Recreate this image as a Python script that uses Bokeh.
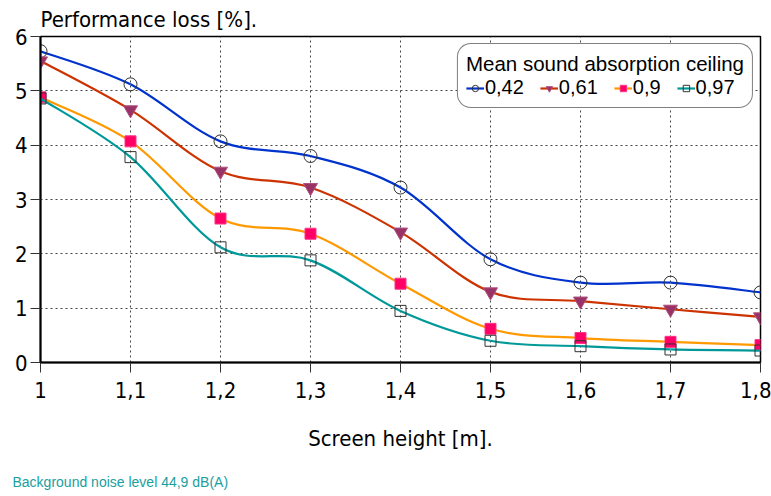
import numpy as np
from bokeh.plotting import figure
from bokeh.models import ColumnDataSource, Legend, LegendItem, FixedTicker, Title
from bokeh.embed import file_html
from bokeh.resources import INLINE

# ---- data ----
heights = [1.0, 1.1, 1.2, 1.3, 1.4, 1.5, 1.6, 1.7, 1.8]
x_tick_labels = ["1", "1,1", "1,2", "1,3", "1,4", "1,5", "1,6", "1,7", "1,8"]
y_ticks = [0, 1, 2, 3, 4, 5, 6]
series_names = ["0,42", "0,61", "0,9", "0,97"]
loss_042 = [5.73, 5.12, 4.07, 3.80, 3.22, 1.90, 1.47, 1.47, 1.29]
loss_061 = [5.55, 4.65, 3.52, 3.22, 2.40, 1.30, 1.13, 0.98, 0.84]
loss_090 = [4.88, 4.07, 2.65, 2.37, 1.45, 0.62, 0.45, 0.38, 0.32]
loss_097 = [4.86, 3.78, 2.12, 1.88, 0.95, 0.40, 0.30, 0.24, 0.22]

FONT = "'Liberation Sans Narrow', 'DejaVu Sans Condensed', 'Liberation Sans', sans-serif"
FONT_REG = "'Liberation Sans', Arial, sans-serif"

p = figure(width=771, height=496, x_range=(1.0, 1.8), y_range=(0, 6),
           output_backend="svg", toolbar_location=None,
           min_border_left=40, min_border_right=11, min_border_top=33, min_border_bottom=134)

p.title.text = "Performance loss [%]."
p.title.text_font = FONT
p.title.text_font_size = "22px"
p.title.text_font_style = "normal"
p.title.text_color = "black"
p.title.align = "left"
p.title.standoff = 9

p.background_fill_color = "white"
p.outline_line_color = "black"
p.outline_line_width = 1.5

for ax in (p.xaxis[0], p.yaxis[0]):
    ax.major_tick_out = 10
    ax.major_tick_in = 0
    ax.minor_tick_line_color = None
    ax.axis_line_color = "black"
    ax.axis_line_width = 2
    ax.major_tick_line_color = "#333333"
    ax.major_label_text_font = FONT
    ax.major_label_text_font_size = "22px"
    ax.major_label_text_color = "black"

p.xaxis.ticker = FixedTicker(ticks=heights)
p.xaxis.major_label_overrides = {h: l for h, l in zip(heights, x_tick_labels)}
p.xaxis.major_label_standoff = 9
p.xaxis.axis_label = "Screen height [m]."
p.xaxis.axis_label_text_font = FONT
p.xaxis.axis_label_text_font_size = "22px"
p.xaxis.axis_label_text_font_style = "normal"
p.xaxis.axis_label_text_color = "black"
p.xaxis.axis_label_standoff = 25

p.yaxis.ticker = FixedTicker(ticks=y_ticks)
p.yaxis.major_label_standoff = 3

p.xgrid.ticker = FixedTicker(ticks=heights)
p.ygrid.ticker = FixedTicker(ticks=y_ticks)
for g in (p.xgrid[0], p.ygrid[0]):
    g.grid_line_color = "#444444"
    g.grid_line_dash = "2 3"
    g.grid_line_width = 1

# a blank first line pushes the note further below the axis title
foot = Title(text="\nBackground noise level 44,9 dB(A)", align="left",
             text_font=FONT_REG, text_font_size="14px", text_font_style="normal",
             text_color="#1a9e9e", standoff=4, offset=-28)
p.add_layout(foot, "below")


def bezier_segments(xs, ys, k=1.0 / 6.0):
    xs = np.asarray(xs, float)
    ys = np.asarray(ys, float)
    n = len(xs)
    xp = np.concatenate([[xs[0]], xs, [xs[-1]]])
    yp = np.concatenate([[ys[0]], ys, [ys[-1]]])
    d = dict(x0=[], y0=[], x1=[], y1=[], cx0=[], cy0=[], cx1=[], cy1=[])
    for i in range(n - 1):
        j = i + 1
        d["x0"].append(xp[j]); d["y0"].append(yp[j])
        d["x1"].append(xp[j + 1]); d["y1"].append(yp[j + 1])
        d["cx0"].append(xp[j] + (xp[j + 1] - xp[j - 1]) * k)
        d["cy0"].append(yp[j] + (yp[j + 1] - yp[j - 1]) * k)
        d["cx1"].append(xp[j + 1] - (xp[j + 2] - xp[j]) * k)
        d["cy1"].append(yp[j + 1] - (yp[j + 2] - yp[j]) * k)
    return ColumnDataSource(d)


styles = [
    dict(data=loss_042, line="#0033cc", marker="circle", size=13, fill=None, mline="#333333"),
    dict(data=loss_061, line="#cc3300", marker="inverted_triangle", size=14, fill="#993366", mline="#b05080"),
    dict(data=loss_090, line="#ff9900", marker="square", size=11, fill="#ff0066", mline="#ff3388"),
    dict(data=loss_097, line="#009999", marker="square", size=11, fill=None, mline="#333333"),
]

items = []
for name, st in zip(series_names, styles):
    src = bezier_segments(heights, st["data"])
    p.bezier(x0="x0", y0="y0", x1="x1", y1="y1", cx0="cx0", cy0="cy0", cx1="cx1", cy1="cy1",
             source=src, line_color=st["line"], line_width=2.2)
    pts = ColumnDataSource(dict(x=heights, y=st["data"]))
    sr = p.scatter("x", "y", source=pts, marker=st["marker"], size=st["size"],
                   fill_color=st["fill"], line_color=st["mline"], line_width=1)
    # legend line sample (NaN data: draws nothing in the plot area)
    lr = p.line(x=[np.nan], y=[np.nan], line_color=st["line"], line_width=2.2)
    items.append(LegendItem(label=name, renderers=[lr, sr]))

legend = Legend(items=items, location="top_right", orientation="horizontal",
                title="Mean sound absorption ceiling",
                title_text_font=FONT_REG, title_text_font_size="20.5px", title_text_font_style="normal",
                title_text_color="black", title_standoff=0,
                label_text_font=FONT_REG, label_text_font_size="20px", label_text_color="black",
                glyph_width=18, glyph_height=16, label_standoff=1, spacing=16,
                padding=8, margin=7, border_line_color="black", border_line_width=1.2,
                background_fill_color="white", background_fill_alpha=1.0)
if "border_radius" in Legend.properties():
    legend.border_radius = 14
p.add_layout(legend, "center")

open("out.html", "w").write(file_html(p, INLINE))
